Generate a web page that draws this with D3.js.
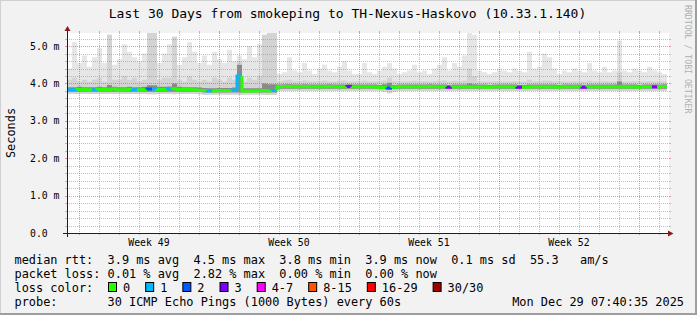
<!DOCTYPE html>
<html>
<head>
<meta charset="utf-8">
<script src="https://cdn.jsdelivr.net/npm/d3@7"></script>
<style>
  body { margin: 0; background: #f2f2f2; }
  svg text { font-family: "DejaVu Sans Mono", monospace; white-space: pre; }
</style>
</head>
<body>
<div id="chart"></div>
<script>
// time window (graph clock), 6 hour bins
const startTime = Date.UTC(2025, 10, 29, 9, 40, 35);
const endTime = Date.UTC(2025, 11, 29, 9, 40, 35);
const binMs = 6 * 3600 * 1000;

// smoke, in ms, one value per bin
const smokeMax = [
  4.40, 5.10, 4.55, 4.75, 4.45, 4.70, 4.95, 4.55, 5.30, 4.50,
  4.65, 5.05, 4.85, 4.70, 4.60, 4.80, 5.35, 5.35, 4.55, 4.80,
  5.05, 5.25, 4.50, 4.70, 5.10, 4.85, 4.55, 4.75, 4.50, 4.85,
  4.65, 4.55, 4.90, 4.60, 4.75, 4.65, 5.00, 4.70, 5.05, 5.30,
  5.35, 5.35, 4.25, 4.30, 4.70, 4.35, 4.30, 4.55, 4.35, 4.25,
  4.40, 4.50, 4.35, 4.30, 4.45, 4.60, 4.35, 4.25, 4.25, 4.55,
  4.30, 4.25, 4.35, 4.45, 4.55, 4.40, 4.25, 4.30, 4.35, 4.50,
  4.30, 4.35, 4.25, 4.40, 4.50, 4.70, 4.35, 4.55, 4.45, 4.75,
  5.35, 5.30, 4.35, 4.30, 4.25, 4.30, 4.40, 4.35, 4.30, 4.40,
  4.35, 4.30, 4.85, 4.40, 4.45, 4.80, 4.70, 4.40, 4.25, 4.35,
  4.30, 4.40, 4.35, 4.30, 4.55, 4.35, 4.30, 4.45, 4.30, 4.35,
  5.15, 4.35, 4.30, 4.40, 4.35, 4.30, 4.45, 4.35, 4.30, 4.25
];
const smokeP90 = [
  4.10, 4.15, 4.05, 4.10, 4.05, 4.10, 4.15, 4.05, 5.30, 4.10,
  4.10, 4.20, 4.10, 4.15, 4.05, 4.10, 5.35, 5.35, 4.10, 4.15,
  4.15, 5.25, 4.10, 4.05, 4.20, 4.10, 4.05, 4.10, 4.05, 4.15,
  4.10, 4.05, 4.15, 4.10, 4.60, 4.05, 4.15, 4.10, 4.20, 5.30,
  5.35, 5.35, 4.05, 4.08, 4.10, 4.06, 4.05, 4.08, 4.06, 4.05,
  4.06, 4.08, 4.05, 4.05, 4.07, 4.08, 4.05, 4.05, 4.05, 4.07,
  4.05, 4.05, 4.06, 4.08, 4.15, 4.06, 4.05, 4.05, 4.06, 4.07,
  4.05, 4.06, 4.05, 4.06, 4.07, 4.08, 4.05, 4.07, 4.06, 4.08,
  4.40, 4.20, 4.05, 4.05, 4.05, 4.05, 4.06, 4.05, 4.05, 4.06,
  4.05, 4.05, 4.10, 4.06, 4.06, 4.08, 4.07, 4.05, 4.05, 4.05,
  4.05, 4.06, 4.05, 4.05, 4.07, 4.05, 4.05, 4.06, 4.05, 4.05,
  4.30, 4.05, 4.05, 4.06, 4.05, 4.05, 4.06, 4.05, 4.05, 4.05
];
const smokeP75 = [
  3.90, 3.90, 3.91, 3.90, 3.90, 3.90, 3.91, 3.90, 3.96, 3.91,
  3.90, 3.90, 3.91, 3.90, 3.90, 3.91, 3.95, 3.95, 3.91, 3.91,
  3.92, 4.00, 3.91, 3.90, 3.90, 3.90, 3.89, 3.88, 3.87, 3.87,
  3.88, 3.88, 3.88, 3.89, 4.50, 3.87, 3.87, 3.87, 3.87, 4.00,
  3.98, 3.98, 3.97, 3.98, 3.98, 3.97, 3.97, 3.98, 3.97, 3.97,
  3.97, 3.97, 3.98, 3.97, 3.97, 3.97, 3.98, 3.97, 3.97, 3.97,
  3.97, 3.97, 3.96, 3.98, 4.02, 3.96, 3.97, 3.97, 3.97, 3.97,
  3.97, 3.97, 3.98, 3.97, 3.97, 3.97, 3.96, 3.97, 3.97, 3.97,
  4.00, 3.98, 3.97, 3.97, 3.96, 3.97, 3.97, 3.97, 3.97, 3.97,
  3.96, 3.96, 3.97, 3.97, 3.97, 3.97, 3.97, 3.97, 3.96, 3.97,
  3.97, 3.97, 3.97, 3.96, 3.97, 3.97, 3.97, 3.97, 3.97, 3.97,
  4.05, 3.97, 3.97, 3.97, 3.96, 3.97, 3.97, 3.97, 3.97, 3.98
];
const smokeP25 = [
  3.78, 3.78, 3.78, 3.78, 3.78, 3.78, 3.78, 3.78, 3.78, 3.78,
  3.78, 3.78, 3.78, 3.78, 3.78, 3.78, 3.78, 3.78, 3.78, 3.78,
  3.78, 3.78, 3.78, 3.78, 3.78, 3.78, 3.77, 3.76, 3.76, 3.76,
  3.76, 3.76, 3.76, 3.76, 3.76, 3.76, 3.76, 3.76, 3.76, 3.76,
  3.76, 3.76, 3.86, 3.86, 3.86, 3.86, 3.86, 3.86, 3.86, 3.86,
  3.86, 3.86, 3.86, 3.86, 3.86, 3.86, 3.86, 3.86, 3.86, 3.86,
  3.86, 3.86, 3.86, 3.85, 3.83, 3.85, 3.86, 3.86, 3.86, 3.86,
  3.86, 3.86, 3.86, 3.86, 3.86, 3.86, 3.86, 3.86, 3.86, 3.86,
  3.86, 3.86, 3.86, 3.86, 3.86, 3.86, 3.86, 3.86, 3.86, 3.86,
  3.86, 3.86, 3.86, 3.86, 3.86, 3.86, 3.86, 3.86, 3.86, 3.86,
  3.86, 3.86, 3.86, 3.86, 3.86, 3.86, 3.86, 3.86, 3.86, 3.86,
  3.86, 3.86, 3.86, 3.86, 3.86, 3.86, 3.86, 3.86, 3.86, 3.86
];
const smokeMin = [
  3.72, 3.72, 3.72, 3.72, 3.72, 3.72, 3.72, 3.72, 3.72, 3.72,
  3.72, 3.72, 3.72, 3.72, 3.72, 3.72, 3.71, 3.71, 3.72, 3.72,
  3.72, 3.71, 3.72, 3.72, 3.72, 3.72, 3.71, 3.70, 3.70, 3.70,
  3.70, 3.70, 3.70, 3.70, 3.69, 3.70, 3.70, 3.70, 3.70, 3.69,
  3.69, 3.69, 3.80, 3.80, 3.80, 3.80, 3.80, 3.80, 3.80, 3.80,
  3.80, 3.80, 3.80, 3.80, 3.80, 3.80, 3.80, 3.80, 3.80, 3.80,
  3.80, 3.80, 3.80, 3.78, 3.74, 3.78, 3.80, 3.80, 3.80, 3.80,
  3.80, 3.80, 3.80, 3.80, 3.80, 3.80, 3.80, 3.80, 3.80, 3.80,
  3.80, 3.80, 3.80, 3.80, 3.80, 3.80, 3.80, 3.80, 3.80, 3.80,
  3.80, 3.80, 3.80, 3.80, 3.80, 3.80, 3.80, 3.80, 3.80, 3.80,
  3.80, 3.80, 3.80, 3.80, 3.80, 3.80, 3.80, 3.80, 3.80, 3.80,
  3.79, 3.80, 3.80, 3.80, 3.80, 3.80, 3.80, 3.80, 3.80, 3.80
];
const medianRtt = [
  3.83, 3.83, 3.84, 3.84, 3.83, 3.83, 3.84, 3.84, 3.83, 3.85,
  3.83, 3.83, 3.84, 3.83, 3.83, 3.84, 3.85, 3.85, 3.84, 3.84,
  3.85, 3.86, 3.84, 3.84, 3.84, 3.83, 3.82, 3.81, 3.80, 3.80,
  3.81, 3.81, 3.81, 3.82, 4.20, 3.80, 3.80, 3.80, 3.80, 3.81,
  3.80, 3.81, 3.91, 3.92, 3.92, 3.91, 3.91, 3.92, 3.91, 3.91,
  3.91, 3.91, 3.92, 3.91, 3.91, 3.91, 3.92, 3.91, 3.91, 3.91,
  3.91, 3.91, 3.90, 3.89, 3.88, 3.90, 3.91, 3.91, 3.91, 3.91,
  3.91, 3.91, 3.92, 3.91, 3.91, 3.91, 3.90, 3.91, 3.91, 3.91,
  3.91, 3.91, 3.91, 3.91, 3.90, 3.91, 3.91, 3.91, 3.91, 3.91,
  3.90, 3.90, 3.90, 3.91, 3.91, 3.91, 3.91, 3.91, 3.90, 3.91,
  3.91, 3.91, 3.91, 3.90, 3.91, 3.91, 3.91, 3.91, 3.91, 3.91,
  3.91, 3.91, 3.91, 3.91, 3.90, 3.91, 3.91, 3.91, 3.91, 3.92
];
// lost pings (of 30) per bin
const lostPings = [
  1, 1, 0, 0, 0, 1, 0, 0, 0, 0,
  0, 0, 0, 1, 0, 0, 2, 1, 0, 0,
  1, 0, 0, 0, 0, 0, 0, 0, 1, 0,
  0, 0, 0, 1, 1, 0, 0, 0, 0, 0,
  0, 1, 0, 0, 0, 0, 0, 0, 0, 0,
  0, 0, 0, 0, 0, 0, 3, 0, 0, 0,
  0, 0, 0, 0, 2, 0, 0, 0, 0, 0,
  0, 0, 0, 0, 0, 0, 3, 0, 0, 0,
  0, 0, 0, 0, 0, 0, 0, 0, 0, 0,
  3, 0, 0, 0, 0, 0, 0, 0, 0, 0,
  0, 0, 0, 3, 0, 0, 0, 0, 0, 0,
  0, 0, 0, 0, 0, 0, 0, 3, 0, 0
];

const lossLabels = ["0", "1", "2", "3", "4-7", "8-15", "16-29", "30/30"];
const lossMinimum = [0, 1, 2, 3, 4, 8, 16, 30];
const lossColors = ["#26ff00", "#00b8ff", "#0059ff", "#7e00ff", "#ff00ff", "#ff5500", "#ff0000", "#a00000"];

const yTicks = [0, 1, 2, 3, 4, 5];
const medianStats = ["3.9 ms avg", "4.5 ms max", "3.8 ms min", "3.9 ms now", "0.1 ms sd", "55.3   am/s"];
const lossStats = ["0.01 % avg", "2.82 % max", "0.00 % min", "0.00 % now"];

const width = 697, height = 315;
const plot = { left: 67, right: 667, top: 33, bottom: 233 };
const nBins = medianRtt.length;

const svg = d3.select("#chart")
    .append("svg")
    .attr("width", width)
    .attr("height", height);

// background + 3d frame
svg.append("rect").attr("width", width).attr("height", height).attr("fill", "#f2f2f2");
svg.append("path").attr("d", `M0,${height} V0 H${width}`).attr("fill", "none")
    .attr("stroke", "#d0d0d0").attr("stroke-width", 2);
svg.append("path").attr("d", `M0,${height - 1} H${width - 1} V0`).attr("fill", "none")
    .attr("stroke", "#9e9e9e").attr("stroke-width", 2);

const x = d3.scaleUtc().domain([startTime, endTime]).range([plot.left, plot.right]);
const y = d3.scaleLinear().domain([0, 5.35]).range([plot.bottom, plot.top]);

svg.append("rect")
    .attr("x", plot.left).attr("y", plot.top)
    .attr("width", plot.right - plot.left + 2).attr("height", plot.bottom - plot.top)
    .attr("fill", "#ffffff");

// smoke
const steps = d3.range(nBins + 1).map(i => ({ t: new Date(startTime + i * binMs), k: Math.min(i, nBins - 1) }));
function band(lo, hi) {
    return d3.area()
        .curve(d3.curveStepAfter)
        .x(d => x(d.t))
        .y0(d => y(lo[d.k]))
        .y1(d => y(hi[d.k]))(steps);
}
const smoke = svg.append("g").attr("class", "smoke");
smoke.append("path").attr("d", band(smokeMin, smokeMax)).attr("fill", "#e6e6e6");
smoke.append("path").attr("d", band(smokeMin, smokeP90)).attr("fill", "#d3d3d3");
smoke.append("path").attr("d", band(smokeP25, smokeP75)).attr("fill", "#8a8a8a");

// grid
const grid = svg.append("g").attr("class", "grid");
const minorCol = "rgba(140,140,140,0.55)";
const majorCol = "rgba(222,80,80,0.6)";

d3.range(1, 27).forEach(k => {
    const v = k * 0.2;
    const major = k % 5 === 0;
    const yy = Math.round(y(v)) + 0.5;
    const col = major ? majorCol : minorCol;
    grid.append("line").attr("x1", plot.left).attr("x2", plot.right + 2)
        .attr("y1", yy).attr("y2", yy)
        .attr("stroke", col).attr("stroke-dasharray", "1,1");
    grid.append("line").attr("x1", plot.left - 2).attr("x2", plot.left)
        .attr("y1", yy).attr("y2", yy).attr("stroke", col);
    grid.append("line").attr("x1", plot.right + 2).attr("x2", plot.right + 4)
        .attr("y1", yy).attr("y2", yy).attr("stroke", col);
});

const days = d3.utcDay.range(new Date(startTime), new Date(endTime));
days.forEach(d => {
    const major = d.getUTCDay() === 0;
    const xx = Math.round(x(d)) + 0.5;
    const col = major ? majorCol : minorCol;
    grid.append("line").attr("x1", xx).attr("x2", xx)
        .attr("y1", plot.top).attr("y2", plot.bottom)
        .attr("stroke", col).attr("stroke-dasharray", "1,1");
    grid.append("line").attr("x1", xx).attr("x2", xx)
        .attr("y1", plot.bottom).attr("y2", plot.bottom + 2).attr("stroke", col);
    grid.append("line").attr("x1", xx).attr("x2", xx)
        .attr("y1", plot.top - 2).attr("y2", plot.top).attr("stroke", col);
});

// median line coloured by loss
function lossClass(n) {
    let c = 0;
    lossMinimum.forEach((m, i) => { if (n >= m) c = i; });
    return c;
}
svg.append("g").attr("class", "median")
    .selectAll("path")
    .data(d3.range(nBins))
    .enter().append("path")
    .attr("d", i => {
        const x0 = x(new Date(startTime + i * binMs));
        const x1 = x(new Date(startTime + (i + 1) * binMs));
        const prev = y(medianRtt[Math.max(i - 1, 0)]);
        return `M${x0},${prev} V${y(medianRtt[i])} H${x1}`;
    })
    .attr("fill", "none")
    .attr("stroke", i => lossColors[lossClass(lostPings[i])])
    .attr("stroke-width", 3);

// axes
const axisCol = "#1f1f1f";
svg.append("line").attr("x1", plot.left - 4).attr("x2", plot.right + 2)
    .attr("y1", plot.bottom + 0.5).attr("y2", plot.bottom + 0.5).attr("stroke", axisCol);
svg.append("line").attr("x1", plot.left + 0.5).attr("x2", plot.left + 0.5)
    .attr("y1", plot.bottom + 4).attr("y2", plot.top - 3).attr("stroke", axisCol);
svg.append("path")
    .attr("d", `M${plot.left - 2.5},${plot.top - 2} L${plot.left + 3.5},${plot.top - 2} L${plot.left + 0.5},${plot.top - 7} Z`)
    .attr("fill", "#8b1a1a");
svg.append("path")
    .attr("d", `M${plot.right + 1},${plot.bottom - 2.5} L${plot.right + 1},${plot.bottom + 3.5} L${plot.right + 6.5},${plot.bottom + 0.5} Z`)
    .attr("fill", "#8b1a1a");

// axis labels
svg.append("g").selectAll("text")
    .data(yTicks)
    .enter().append("text")
    .attr("x", 30)
    .attr("y", d => y(d) + 3.5)
    .attr("font-size", "9.8px")
    .attr("fill", "#000")
    .text(d => d === 0 ? "0.0" : `${d.toFixed(1)} m`);

const weekFmt = d3.utcFormat("%V");
const weeks = d3.utcSunday.range(new Date(startTime), new Date(endTime))
    .map(d => new Date(+d + 3.5 * 86400000))
    .filter(d => +d < endTime);
svg.append("g").selectAll("text")
    .data(weeks)
    .enter().append("text")
    .attr("x", d => x(d))
    .attr("y", 245.5)
    .attr("text-anchor", "middle")
    .attr("font-size", "9.8px")
    .text(d => `Week ${weekFmt(d)}`);

svg.append("text")
    .attr("transform", "translate(14.5,133) rotate(-90)")
    .attr("text-anchor", "middle")
    .attr("font-size", "11.9px")
    .text("Seconds");

svg.append("text")
    .attr("x", 347.5).attr("y", 18.3)
    .attr("text-anchor", "middle")
    .attr("font-size", "13px")
    .text("Last 30 Days from smokeping to TH-Nexus-Haskovo (10.33.1.140)");

svg.append("text")
    .attr("transform", "translate(685,5) rotate(90)")
    .attr("font-size", "8.2px")
    .attr("fill", "#b0b0b0")
    .text("RRDTOOL / TOBI OETIKER");

// legend
const legendX = 14.5;
const legendFont = "11.9px";
svg.append("text").attr("x", legendX).attr("y", 263.5).attr("font-size", legendFont)
    .text("median rtt:  " + medianStats.join("  "));
svg.append("text").attr("x", legendX).attr("y", 277.5).attr("font-size", legendFont)
    .text("packet loss: " + lossStats.join("  "));
svg.append("text").attr("x", legendX).attr("y", 291.5).attr("font-size", legendFont)
    .text("loss color:");

let cursor = 108;
lossLabels.forEach((label, i) => {
    svg.append("rect")
        .attr("x", cursor + 0.5).attr("y", 282.5)
        .attr("width", 8).attr("height", 9)
        .attr("fill", lossColors[i])
        .attr("stroke", "#000");
    const t = svg.append("text")
        .attr("x", cursor + 15).attr("y", 291.5)
        .attr("font-size", legendFont)
        .text(label);
    cursor += 15 + t.node().getComputedTextLength() + 15;
});

svg.append("text").attr("x", legendX).attr("y", 305.5).attr("font-size", legendFont)
    .text("probe:       30 ICMP Echo Pings (1000 Bytes) every 60s");
svg.append("text").attr("x", 684).attr("y", 305.5).attr("font-size", legendFont)
    .attr("text-anchor", "end")
    .text("Mon Dec 29 07:40:35 2025");
</script>
</body>
</html>
